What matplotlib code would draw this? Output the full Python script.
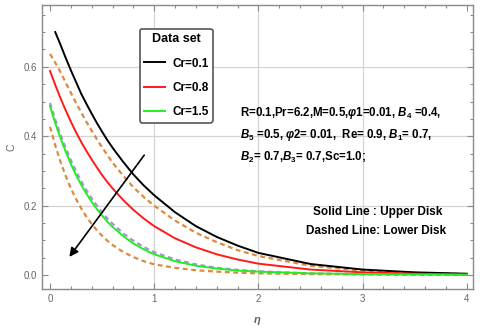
import matplotlib.pyplot as plt
from matplotlib.ticker import MultipleLocator, FormatStrFormatter

plt.rcParams['font.family'] = ['Liberation Sans', 'DejaVu Sans']
plt.rcParams['mathtext.fontset'] = 'custom'
plt.rcParams['mathtext.rm'] = 'Liberation Sans:bold'
plt.rcParams['mathtext.it'] = 'Liberation Sans:italic:bold'
plt.rcParams['mathtext.bf'] = 'Liberation Sans:bold'

# datos
eta = [0.0, 0.05, 0.1, 0.15, 0.2, 0.25, 0.3, 0.35, 0.4, 0.45, 0.5, 0.55, 0.6,
       0.7, 0.8, 0.9, 1.0, 1.2, 1.4, 1.6, 1.8, 2.0, 2.5, 3.0, 3.5, 4.0]
eta_negro = eta[1:]

# lineas solidas (disco superior)
c_cr01 = [0.700, 0.664, 0.626, 0.590, 0.556, 0.522, 0.493, 0.465, 0.438, 0.413, 0.389, 0.367,
          0.327, 0.290, 0.258, 0.230, 0.181, 0.141, 0.110, 0.085, 0.064, 0.032, 0.016, 0.008, 0.004]
c_cr08 = [0.588, 0.548, 0.510, 0.475, 0.442, 0.411, 0.383, 0.357, 0.333, 0.310, 0.288, 0.268, 0.250,
          0.217, 0.188, 0.163, 0.141, 0.106, 0.080, 0.060, 0.045, 0.033, 0.016, 0.008, 0.004, 0.002]
c_cr15 = [0.487, 0.438, 0.395, 0.356, 0.320, 0.288, 0.260, 0.234, 0.211, 0.190, 0.171, 0.154, 0.139,
          0.113, 0.091, 0.074, 0.060, 0.040, 0.027, 0.019, 0.013, 0.010, 0.005, 0.003, 0.002, 0.001]

# lineas punteadas (disco inferior)
c_inf1 = [0.637, 0.612, 0.585, 0.555, 0.525, 0.496, 0.468, 0.441, 0.416, 0.391, 0.368, 0.346, 0.324,
          0.287, 0.253, 0.225, 0.200, 0.157, 0.122, 0.095, 0.072, 0.055, 0.027, 0.013, 0.006, 0.003]
c_inf2 = [0.496, 0.448, 0.405, 0.366, 0.331, 0.299, 0.270, 0.244, 0.221, 0.200, 0.180, 0.163, 0.148,
          0.121, 0.099, 0.081, 0.066, 0.045, 0.031, 0.021, 0.015, 0.011, 0.005, 0.003, 0.002, 0.001]
c_inf3 = [0.427, 0.374, 0.327, 0.286, 0.250, 0.219, 0.192, 0.168, 0.147, 0.129, 0.113, 0.099, 0.087,
          0.067, 0.052, 0.040, 0.031, 0.021, 0.014, 0.010, 0.007, 0.005, 0.003, 0.002, 0.001, 0.001]

etiquetas = ['Cr=0.1', 'Cr=0.8', 'Cr=1.5']

gris = '#8a8a8a'
naranja = '#dd8a3e'
morado = '#a393d8'

fig = plt.figure(figsize=(4.8, 3.28), dpi=100)
ax = fig.add_axes([42/480, 1 - 289/328, 431/480, 284/328])

# rejilla
for xg in [1, 2, 3]:
    ax.axvline(xg, color='#d4d4d4', lw=0.9, zorder=0)
for yg in [0.2, 0.4, 0.6]:
    ax.axhline(yg, color='#d4d4d4', lw=0.9, zorder=0)

# punteadas
estilo = dict(lw=1.6, linestyle=(0, (2.2, 1.6)))
ax.plot(eta, c_inf1, color=naranja, **estilo)
ax.plot(eta, c_inf2, color=morado, **estilo)
ax.plot(eta, c_inf3, color=naranja, **estilo)

# solidas
l1, = ax.plot(eta_negro, c_cr01, color='black', lw=1.4)
l2, = ax.plot(eta, c_cr08, color='#ff1a1a', lw=1.4)
l3, = ax.plot(eta, c_cr15, color='#22ee22', lw=1.4)

ax.set_xlim(-0.077, 4.06)
ax.set_ylim(-0.040, 0.778)

ax.xaxis.set_major_locator(MultipleLocator(1))
ax.xaxis.set_minor_locator(MultipleLocator(0.2))
ax.yaxis.set_major_locator(MultipleLocator(0.2))
ax.yaxis.set_minor_locator(MultipleLocator(0.05))
ax.yaxis.set_major_formatter(FormatStrFormatter('%.1f'))
ax.tick_params(which='both', direction='in', top=True, right=True, colors=gris,
               labelcolor='#666666', labelsize=7, width=0.8)
ax.tick_params(which='major', length=4)
ax.tick_params(which='minor', length=2)
for s in ax.spines.values():
    s.set_color(gris)
    s.set_linewidth(1.0)

ax.set_xlabel(r'$\eta$', color='#666666', fontsize=8, labelpad=8)
ax.set_ylabel('C', color='#666666', fontsize=7.5, labelpad=5)

# flecha
ax.annotate('', xy=(0.17, 0.046), xytext=(0.92, 0.352),
            arrowprops=dict(arrowstyle='-|>', color='black', lw=1.2, mutation_scale=13))

leg = ax.legend([l1, l2, l3], etiquetas, title='Data set', loc='upper left',
                bbox_to_anchor=(0.213, 0.936), handlelength=1.8, handletextpad=0.6,
                labelspacing=1.05, fancybox=True, framealpha=1, borderpad=0.35,
                prop={'size': 8.5, 'weight': 'bold'})
leg.get_title().set_fontweight('bold')
leg.get_title().set_fontsize(9)
leg.get_frame().set_edgecolor('#555555')
leg.get_frame().set_linewidth(1.2)

# parametros
params = [r'R=0.1,Pr=6.2,M=0.5,$φ$1=0.01, $B_4$ =0.4,',
          r'$B_5$ =0.5, $φ$2= 0.01,  Re= 0.9, $B_1$= 0.7,',
          r'$B_2$= 0.7,$B_3$= 0.7,Sc=1.0;']
ypos = [113, 135, 157]
for texto, yp in zip(params, ypos):
    fig.text(240/480, 1 - yp/328, texto, fontsize=8.3, fontweight='bold',
             ha='left', va='center')

fig.text(378/480, 1 - 212/328, 'Solid Line : Upper Disk', fontsize=8.5,
         fontweight='bold', ha='center', va='center')
fig.text(376/480, 1 - 231/328, 'Dashed Line: Lower Disk', fontsize=8.5,
         fontweight='bold', ha='center', va='center')

plt.savefig('out.png', dpi=100)
